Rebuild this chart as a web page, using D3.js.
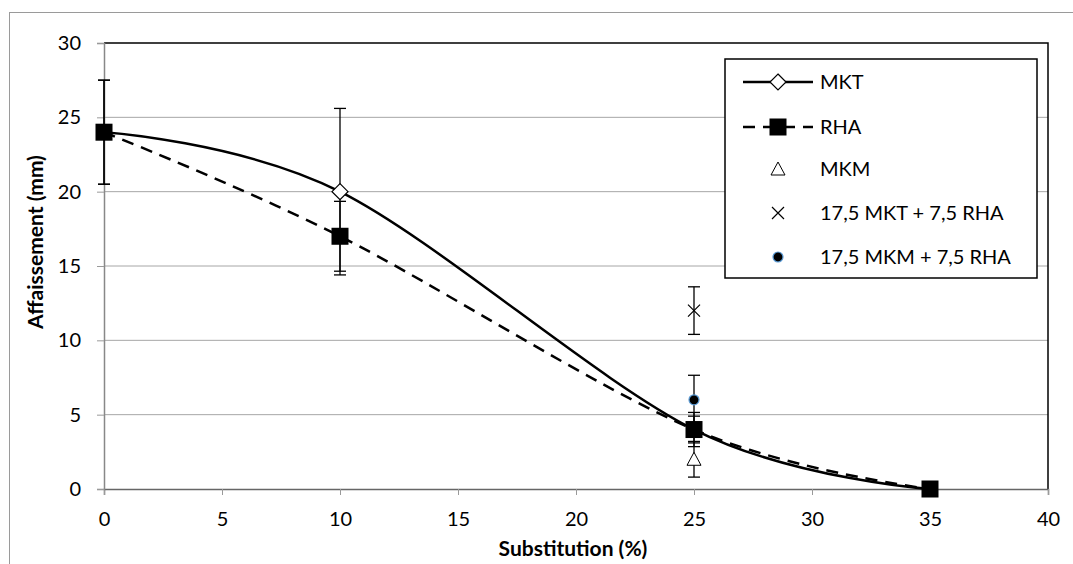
<!DOCTYPE html>
<html>
<head>
<meta charset="utf-8">
<script src="https://cdn.jsdelivr.net/npm/d3@7"></script>
<style>
html,body{margin:0;padding:0;background:#fff;}
svg{display:block;font-family:Lato,"Open Sans",sans-serif;}
</style>
</head>
<body>
<svg id="chart" width="1073" height="564"></svg>
<script>
// ---- data ----
const substitution = [0, 10, 25, 35];
const mktValues = [24, 20, 4, 0];
const mktErrors = [3.5, 5.6, 1.15, 0];
const rhaValues = [24, 17, 4, 0];
const rhaErrors = [3.5, 2.35, 0.9, 0];
const mkmX = [25], mkmValues = [2], mkmErrors = [1.2];
const mix1X = [25], mix1Values = [12], mix1Errors = [1.6];
const mix2X = [25], mix2Values = [6], mix2Errors = [1.65];
const xTicks = [0, 5, 10, 15, 20, 25, 30, 35, 40];
const yTicks = [0, 5, 10, 15, 20, 25, 30];
const legendLabels = ["MKT", "RHA", "MKM", "17,5 MKT + 7,5 RHA", "17,5 MKM + 7,5 RHA"];

const svg = d3.select("#chart");
const L = 104, R = 1048, T = 43, B = 489;
const x = d3.scaleLinear().domain([0, 40]).range([L, R]);
const y = d3.scaleLinear().domain([0, 30]).range([B, T]);
const FS = 20;

// outer border
svg.append("rect").attr("x", 9.5).attr("y", 12.5).attr("width", 1100).attr("height", 600)
  .attr("fill", "none").attr("stroke", "#9a9a9a").attr("stroke-width", 1);

// gridlines
svg.append("g").selectAll("line").data(yTicks.filter(d => d > 0 && d < 30)).join("line")
  .attr("x1", L).attr("x2", R).attr("y1", d => y(d)).attr("y2", d => y(d))
  .attr("stroke", "#a6a6a6").attr("stroke-width", 1);

// plot border top/right
svg.append("path").attr("d", `M${L},${T}H${R}V${B}`).attr("fill", "none")
  .attr("stroke", "#000").attr("stroke-width", 1.5);

// axes
const xAxis = svg.append("g").attr("transform", `translate(0,${B})`)
  .call(d3.axisBottom(x).tickValues(xTicks).tickSize(6).tickPadding(17).tickFormat(d3.format("d")));
xAxis.select(".domain").attr("stroke", "#666").attr("stroke-width", 1.5);
xAxis.selectAll(".tick line").attr("stroke", "#9a9a9a");
xAxis.selectAll("text").attr("font-size", FS).attr("fill", "#000").attr("font-family", "Lato");

const yAxis = svg.append("g").attr("transform", `translate(${L},0)`)
  .call(d3.axisLeft(y).tickValues(yTicks).tickSize(7).tickPadding(16).tickFormat(d3.format("d")));
yAxis.select(".domain").attr("stroke", "#888").attr("stroke-width", 1.5);
yAxis.selectAll(".tick line").attr("stroke", "#9a9a9a");
yAxis.selectAll("text").attr("font-size", FS).attr("fill", "#000").attr("font-family", "Lato");

// axis titles
svg.append("text").attr("x", 573).attr("y", 556).attr("text-anchor", "middle")
  .attr("font-size", 21).attr("font-weight", "bold").text("Substitution (%)");
svg.append("text").attr("transform", `translate(43,242) rotate(-90)`)
  .attr("text-anchor", "middle").attr("font-size", 21).attr("font-weight", "bold")
  .text("Affaissement (mm)");

// curves
const line = d3.line().x(d => x(d[0])).y(d => y(d[1])).curve(d3.curveCardinal.tension(0));
const mktPts = substitution.map((s, i) => [s, mktValues[i]]);
const rhaPts = substitution.map((s, i) => [s, rhaValues[i]]);
svg.append("path").attr("d", line(rhaPts)).attr("fill", "none").attr("stroke", "#000")
  .attr("stroke-width", 2.5).attr("stroke-dasharray", "12,8");
svg.append("path").attr("d", line(mktPts)).attr("fill", "none").attr("stroke", "#000")
  .attr("stroke-width", 2.5);

// error bars
function errorBars(xs, vals, errs) {
  const g = svg.append("g").attr("stroke", "#000").attr("stroke-width", 1.3);
  xs.forEach((xv, i) => {
    const e = errs[i];
    if (!e) return;
    const cx = x(xv), y1 = y(vals[i] + e), y2 = y(vals[i] - e);
    g.append("line").attr("x1", cx).attr("x2", cx).attr("y1", y1).attr("y2", y2);
    g.append("line").attr("x1", cx - 6).attr("x2", cx + 6).attr("y1", y1).attr("y2", y1);
    g.append("line").attr("x1", cx - 6).attr("x2", cx + 6).attr("y1", y2).attr("y2", y2);
  });
}
errorBars(substitution, mktValues, mktErrors);
errorBars(substitution, rhaValues, rhaErrors);
errorBars(mkmX, mkmValues, mkmErrors);
errorBars(mix1X, mix1Values, mix1Errors);
errorBars(mix2X, mix2Values, mix2Errors);

// marker drawers
function diamond(g, cx, cy) {
  g.append("path").attr("d", `M${cx},${cy - 8}L${cx + 8},${cy}L${cx},${cy + 8}L${cx - 8},${cy}Z`)
    .attr("fill", "#fff").attr("stroke", "#000").attr("stroke-width", 1.2);
}
function square(g, cx, cy) {
  g.append("rect").attr("x", cx - 8.5).attr("y", cy - 8.5).attr("width", 17).attr("height", 17).attr("fill", "#000");
}
function triangle(g, cx, cy) {
  g.append("path").attr("d", `M${cx},${cy - 7}L${cx + 7},${cy + 6}L${cx - 7},${cy + 6}Z`)
    .attr("fill", "#fff").attr("stroke", "#000").attr("stroke-width", 1);
}
function cross(g, cx, cy) {
  g.append("path").attr("d", `M${cx - 6},${cy - 6}L${cx + 6},${cy + 6}M${cx + 6},${cy - 6}L${cx - 6},${cy + 6}`)
    .attr("stroke", "#000").attr("stroke-width", 1.2).attr("fill", "none");
}
function dot(g, cx, cy) {
  g.append("circle").attr("cx", cx).attr("cy", cy).attr("r", 5).attr("fill", "#000")
    .attr("stroke", "#5b9bd5").attr("stroke-width", 1.2);
}

const mg = svg.append("g");
rhaPts.forEach(p => square(mg, x(p[0]), y(p[1])));
mktPts.forEach((p, i) => { if (i === 1) diamond(mg, x(p[0]), y(p[1])); });
mkmX.forEach((xv, i) => triangle(mg, x(xv), y(mkmValues[i])));
mix1X.forEach((xv, i) => cross(mg, x(xv), y(mix1Values[i])));
mix2X.forEach((xv, i) => dot(mg, x(xv), y(mix2Values[i])));

// legend
const lg = svg.append("g");
lg.append("rect").attr("x", 725).attr("y", 59).attr("width", 312).attr("height", 219)
  .attr("fill", "#fff").attr("stroke", "#000").attr("stroke-width", 1.5);
const rows = [82, 127, 169, 213, 257];
const lx1 = 743, lx2 = 813, lmx = 778;
lg.append("line").attr("x1", lx1).attr("x2", lx2).attr("y1", rows[0]).attr("y2", rows[0])
  .attr("stroke", "#000").attr("stroke-width", 2.5);
diamond(lg, lmx, rows[0]);
lg.append("line").attr("x1", lx1).attr("x2", lx2).attr("y1", rows[1]).attr("y2", rows[1])
  .attr("stroke", "#000").attr("stroke-width", 2.5).attr("stroke-dasharray", "12,8");
square(lg, lmx, rows[1]);
triangle(lg, lmx, rows[2]);
cross(lg, lmx, rows[3]);
dot(lg, lmx, rows[4]);
lg.selectAll("text.lab").data(legendLabels).join("text").attr("class", "lab")
  .attr("x", 820).attr("y", (d, i) => rows[i]).attr("dy", "0.35em")
  .attr("font-size", FS).attr("fill", "#000").text(d => d);
</script>
</body>
</html>
